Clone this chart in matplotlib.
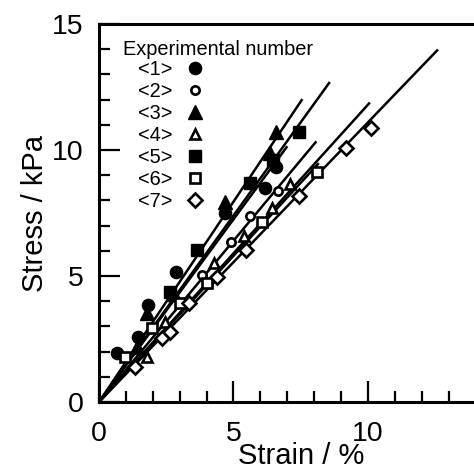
import matplotlib
matplotlib.use('Agg')
import matplotlib.pyplot as plt
from matplotlib.ticker import MultipleLocator
import numpy as np

plt.rcParams['font.family'] = ['Liberation Sans', 'DejaVu Sans']

# ---- data ----
labels = ['<1>', '<2>', '<3>', '<4>', '<5>', '<6>', '<7>']

strain_1 = [0.66, 1.46, 1.83, 2.86, 4.70, 6.17, 6.57]
stress_1 = [1.93, 2.59, 3.85, 5.17, 7.50, 8.48, 9.34]

strain_2 = [3.83, 4.89, 5.61, 6.65]
stress_2 = [5.04, 6.36, 7.38, 8.37]

strain_3 = [1.40, 1.77, 2.80, 4.68, 6.35, 6.57]
stress_3 = [2.20, 3.52, 4.30, 7.95, 9.90, 10.73]

strain_4 = [1.78, 2.46, 4.27, 5.38, 6.44, 7.10]
stress_4 = [1.80, 3.19, 5.50, 6.59, 7.69, 8.67]

strain_5 = [2.64, 3.63, 5.61, 6.45, 7.44]
stress_5 = [4.38, 6.03, 8.68, 9.60, 10.73]

strain_6 = [0.97, 1.97, 3.02, 4.02, 6.07, 8.12]
stress_6 = [1.80, 2.92, 3.92, 4.71, 7.15, 9.14]

strain_7 = [1.34, 2.34, 2.65, 3.33, 4.39, 5.45, 7.44, 9.18, 10.10]
stress_7 = [1.40, 2.53, 2.79, 3.92, 4.97, 6.03, 8.18, 10.07, 10.86]

# fitted lines through the origin: slope (kPa per %) and strain where each line ends
fit_slopes = [1.45, 1.28, 1.59, 1.18, 1.48, 1.16, 1.11]
fit_end_strain = [7.0, 8.08, 7.56, 10.07, 8.58, 8.17, 12.6]

x_ticks = [0, 5, 10]
y_ticks = [0, 5, 10, 15]

strains = [strain_1, strain_2, strain_3, strain_4, strain_5, strain_6, strain_7]
stresses = [stress_1, stress_2, stress_3, stress_4, stress_5, stress_6, stress_7]

# marker styles (marker, filled, markersize, edgewidth)
styles = [('o', True, 8.8, 1.0),
          ('o', False, 6.0, 1.9),
          ('^', True, 9.6, 1.0),
          ('^', False, 7.4, 1.9),
          ('s', True, 8.6, 1.0),
          ('s', False, 6.6, 1.9),
          ('D', False, 7.2, 1.9)]

W, H = 474, 473
fig = plt.figure(figsize=(W / 100, H / 100), dpi=100)
px_per_unit_x = 26.9
ax = fig.add_axes([99 / W, 71 / H, 15 * px_per_unit_x / W, 378 / H])
ax.set_xlim(0, 15)
ax.set_ylim(0, 15)

# fit lines
for k, (s, e) in enumerate(zip(fit_slopes, fit_end_strain)):
    xx = np.array([0.0, e])
    ax.plot(xx, s * xx, color='black', lw=1.8, solid_capstyle='butt', zorder=2)

handles = []
for k in range(7):
    m, filled, ms, mew = styles[k]
    h, = ax.plot(strains[k], stresses[k], linestyle='none', marker=m,
                 markersize=ms, markeredgewidth=mew,
                 markerfacecolor='black' if filled else 'white',
                 markeredgecolor='black', zorder=3 + k * 0.1)
    handles.append(h)

# spines
for side in ['left', 'top', 'bottom']:
    ax.spines[side].set_linewidth(2.2)
ax.spines['right'].set_visible(False)

ax.set_xticks(x_ticks)
ax.set_yticks(y_ticks)
ax.xaxis.set_minor_locator(MultipleLocator(1))
ax.yaxis.set_minor_locator(MultipleLocator(1))
ax.tick_params(which='major', direction='in', length=15, width=1.6,
               labelsize=20.5, top=False, right=False)
ax.tick_params(which='minor', direction='in', length=8, width=1.6,
               top=False, right=False)
ax.tick_params(axis='x', which='major', pad=14)
ax.tick_params(axis='y', which='major', pad=11)

ax.set_xlabel('Strain / %', fontsize=21, labelpad=-4)
ax.set_ylabel('Stress / kPa', fontsize=21, labelpad=2)

# legend
fig.text(123 / W, 1 - 55 / H, 'Experimental number', fontsize=14.4,
         ha='left', va='baseline')
leg = ax.legend(handles, labels, loc='upper left',
                bbox_to_anchor=(138 / W, 1 - 60 / H),
                bbox_transform=fig.transFigure, frameon=False,
                markerfirst=False, fontsize=14.4, handlelength=1.0,
                handletextpad=0.6, labelspacing=0.15, borderpad=0,
                borderaxespad=0, numpoints=1)

fig.savefig('out.png', dpi=100)
